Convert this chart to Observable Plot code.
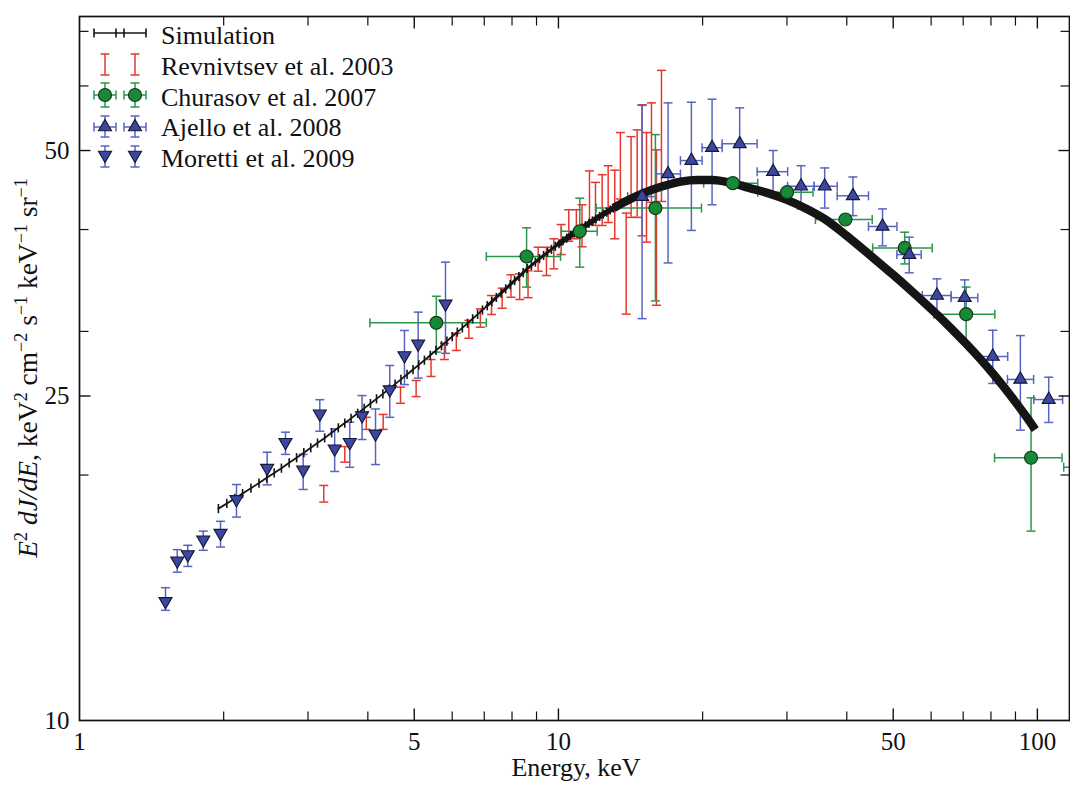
<!DOCTYPE html>
<html><head><meta charset="utf-8">
<script src="https://cdn.jsdelivr.net/npm/d3@7"></script>
<script src="https://cdn.jsdelivr.net/npm/@observablehq/plot@0.6"></script>
<style>
html,body{margin:0;padding:0;background:#fff;}
#chart{width:1070px;height:785px;}
#chart svg, #chart svg text, #chart svg tspan{font-family:'Liberation Serif','Times New Roman',serif !important;}
</style></head><body><div id="chart"></div>
<script>
// ---------- data ----------
const xTickLabels = [1, 5, 10, 50, 100];
const xMajorTicks = [5, 10, 50, 100];
const xMinorTicks = [2, 3, 4, 6, 7, 8, 9, 20, 30, 40, 60, 70, 80, 90];
const yTickLabels = [10, 25, 50];
const yMajorTicks = [25, 50];
const yMinorTicks = [20, 30, 40, 60, 70];

// Simulation (bin edges and values)
const simE = [1.95, 2.03, 2.11, 2.19, 2.28, 2.37, 2.46, 2.55, 2.64, 2.74, 2.84, 2.94, 3.04, 3.14, 3.25, 3.36, 3.47, 3.58, 3.69, 3.81, 3.93, 4.05, 4.17, 4.3, 4.43, 4.56, 4.69, 4.83, 4.97, 5.11, 5.25, 5.4, 5.55, 5.7, 5.85, 6.0, 6.15, 6.3, 6.46, 6.62, 6.78, 6.94, 7.1, 7.26, 7.42, 7.59, 7.76, 7.93, 8.1, 8.27, 8.44, 8.61, 8.78, 8.95, 9.13, 9.31, 9.49, 9.67, 9.85, 10.03, 10.22, 10.41, 10.6, 10.79, 10.98, 11.18, 11.38, 11.58, 11.78, 11.98, 12.19, 12.4, 12.61, 12.82, 13.03, 13.7, 15.0, 16.5, 18.0, 19.5, 21.0, 23.0, 25.0, 27.5, 30.0, 33.0, 36.0, 40.0, 45.0, 50.0, 55.0, 60.7, 66.0, 71.3, 76.0, 80.9, 85.0, 90.0, 95.0, 99.0];
const simF = [18.19, 18.46, 18.72, 18.98, 19.27, 19.55, 19.84, 20.12, 20.39, 20.70, 21.00, 21.30, 21.60, 21.89, 22.21, 22.53, 22.85, 23.16, 23.47, 23.81, 24.14, 24.47, 24.80, 25.15, 25.50, 25.85, 26.20, 26.57, 26.94, 27.30, 27.66, 28.05, 28.43, 28.81, 29.19, 29.57, 29.94, 30.30, 30.70, 31.09, 31.48, 31.87, 32.26, 32.64, 33.02, 33.42, 33.83, 34.23, 34.63, 35.03, 35.42, 35.82, 36.16, 36.49, 36.84, 37.18, 37.51, 37.82, 38.14, 38.43, 38.74, 39.04, 39.32, 39.61, 39.88, 40.16, 40.44, 40.71, 40.98, 41.24, 41.51, 41.77, 42.02, 42.27, 42.50, 43.2, 44.3, 45.2, 45.8, 46.0, 46.0, 45.6, 45.0, 44.3, 43.5, 42.4, 41.2, 39.3, 37.1, 35.2, 33.5, 31.76, 30.28, 28.9, 27.75, 26.6, 25.67, 24.58, 23.54, 22.73];

// Revnivtsev et al. 2003 (vertical error bars only)
const revE  = [3.236, 3.58, 3.97, 4.306, 4.68, 5.045, 5.42, 5.78, 6.12, 6.50, 6.87, 7.25, 7.63, 7.96, 8.30, 8.64, 9.07, 9.44, 9.78, 10.13, 10.51, 10.9, 11.2, 11.61, 11.95, 12.34, 12.7, 13.11, 13.47, 13.85, 14.18, 14.6, 14.95, 15.27, 15.64, 16.02, 16.41];
const revLo = [18.53, 20.74, 22.75, 22.75, 24.49, 24.96, 26.42, 27.71, 28.43, 29.43, 30.36, 31.47, 32.03, 33.04, 32.83, 33.0, 35.56, 35.13, 35.8, 37.27, 38.7, 38.97, 38.1, 40.6, 40.46, 40.46, 40.8, 38.97, 43.6, 31.5, 41.4, 41.4, 39.3, 38.6, 43.2, 32.3, 43.3];
const revHi = [19.42, 21.67, 23.54, 23.73, 25.63, 26.12, 27.71, 29.01, 29.85, 30.95, 31.97, 33.2, 33.9, 35.2, 35.3, 35.6, 38.05, 38.05, 38.97, 40.57, 42.3, 42.3, 42.9, 47.2, 45.7, 46.7, 47.9, 47.3, 52.6, 41.9, 52.0, 53.0, 56.9, 52.6, 57.2, 50.1, 62.7];

// Churasov et al. 2007
const chuE   = [5.56, 8.58, 11.08, 15.94, 23.12, 30.02, 39.74, 52.84, 71.0, 97.0, 135];
const chuF   = [30.74, 37.07, 39.8, 42.5, 45.6, 44.45, 41.15, 37.98, 31.5, 21.0, 20.45];
const chuXlo = [4.04, 7.07, 10.14, 11.99, 20.1, 26.07, 34.4, 45.3, 60.8, 81.4, 113.5];
const chuXhi = [7.07, 10.1, 12.05, 19.89, 26.07, 34.0, 45.2, 60.3, 81.5, 112.6, 160];
const chuLo  = [28.3, 34.0, 35.97, 32.7, null, null, null, 36.3, 29.0, 17.07, null];
const chuHi  = [33.13, 40.2, 43.7, 52.3, null, null, null, 39.7, 34.0, 24.87, null];

// Ajello et al. 2008
const ajE   = [14.95, 16.94, 18.95, 20.93, 23.9, 28.07, 32.1, 35.97, 41.2, 47.5, 54.0, 61.7, 70.5, 80.7, 92.15, 105.6];
const ajF   = [43.9, 46.8, 48.6, 50.4, 50.95, 47.1, 45.2, 45.2, 44.0, 40.35, 37.27, 33.2, 33.0, 27.95, 26.2, 24.75];
const ajXlo = [13.95, 15.99, 17.98, 19.95, 21.97, 26.0, 30.1, 34.2, 38.2, 44.4, 50.9, 57.5, 66.05, 75.0, 86.6, 98.3];
const ajXhi = [15.94, 17.98, 19.95, 21.97, 25.99, 30.1, 34.2, 38.2, 44.4, 50.9, 57.2, 66.05, 75.1, 86.7, 98.2, 112.9];
const ajLo  = [31.1, 36.4, 39.9, 42.9, 45.7, 44.2, 42.4, 42.5, 41.6, 38.2, 35.4, 31.6, 31.6, 25.9, 22.7, 23.2];
const ajHi  = [56.8, 57.2, 57.3, 57.8, 56.4, 50.0, 47.9, 47.6, 46.4, 42.4, 39.15, 34.8, 34.7, 30.1, 29.65, 26.36];

// Moretti et al. 2009
const morE  = [1.512, 1.60, 1.683, 1.813, 1.970, 2.127, 2.465, 2.692, 2.931, 3.175, 3.41, 3.667, 3.89, 4.15, 4.445, 4.77, 5.095, 5.81];
const morF  = [14.0, 15.7, 15.98, 16.66, 16.97, 18.67, 20.4, 21.94, 20.3, 23.78, 21.54, 21.94, 23.66, 22.47, 25.46, 28.03, 28.96, 32.43];
const morLo = [13.65, 15.2, 15.45, 16.17, 16.32, 17.76, 19.45, 21.2, 19.2, 22.63, 20.2, 20.44, 22.11, 20.6, 23.54, 25.82, 26.3, 28.2];
const morHi = [14.55, 16.2, 16.4, 17.07, 17.55, 19.47, 21.33, 22.57, 21.2, 24.74, 22.79, 23.22, 25.03, 24.1, 27.25, 30.08, 31.68, 36.48];

const legendLabels = ["Simulation", "Revnivtsev et al. 2003", "Churasov et al. 2007", "Ajello et al. 2008", "Moretti et al. 2009"];

// ---------- tables ----------
const sim = simE.map((E, i) => ({E, F: simF[i]}));
const rev = revE.map((E, i) => ({E, lo: revLo[i], hi: revHi[i]}));
const chu = chuE.map((E, i) => ({E, F: chuF[i], xlo: chuXlo[i], xhi: chuXhi[i], lo: chuLo[i], hi: chuHi[i]}));
const aj  = ajE.map((E, i) => ({E, F: ajF[i], xlo: ajXlo[i], xhi: ajXhi[i], lo: ajLo[i], hi: ajHi[i]}));
const mor = morE.map((E, i) => ({E, F: morF[i], lo: morLo[i], hi: morHi[i]}));
const chuY = chu.filter(d => d.lo != null);

// ---------- styles ----------
const RED = "#e6372d", GREEN_ERR = "#2b9648", GREEN_FILL = "#178a38", GREEN_EDGE = "#153a1d";
const BLUE_ERR = "#5864c2", BLUE_FILL = "#3c489f", BLUE_EDGE = "#161938", BLACK = "#151515";
const FONT = "'Liberation Serif', 'Times New Roman', serif";

// custom symbols (size = PI r^2)
const len = s => Math.sqrt(s / Math.PI);
const vCap = {draw(c, s) { const h = len(s); c.moveTo(0, -h); c.lineTo(0, h); }};
const hCap = {draw(c, s) { const h = len(s); c.moveTo(-h, 0); c.lineTo(h, 0); }};
const tUp = {draw(c, s) { const h = len(s); c.moveTo(0, 0); c.lineTo(0, -h); }};
const tDown = {draw(c, s) { const h = len(s); c.moveTo(0, 0); c.lineTo(0, h); }};
const tRight = {draw(c, s) { const h = len(s); c.moveTo(0, 0); c.lineTo(h, 0); }};
const tLeft = {draw(c, s) { const h = len(s); c.moveTo(0, 0); c.lineTo(-h, 0); }};
const triUp = {draw(c, s) { const y = Math.sqrt(s / (3 * Math.sqrt(3))); c.moveTo(0, -2 * y); c.lineTo(Math.sqrt(3) * y, y); c.lineTo(-Math.sqrt(3) * y, y); c.closePath(); }};
const triDown = {draw(c, s) { const y = Math.sqrt(s / (3 * Math.sqrt(3))); c.moveTo(0, 2 * y); c.lineTo(-Math.sqrt(3) * y, -y); c.lineTo(Math.sqrt(3) * y, -y); c.closePath(); }};

function vErr(data, color, cap, extra = {}) {
  return [
    Plot.ruleX(data, {x: "E", y1: "lo", y2: "hi", stroke: color, strokeWidth: 1.5, ...extra}),
    Plot.dot(data, {x: "E", y: "lo", symbol: hCap, r: cap, stroke: color, fill: "none", strokeWidth: 1.5, ...extra}),
    Plot.dot(data, {x: "E", y: "hi", symbol: hCap, r: cap, stroke: color, fill: "none", strokeWidth: 1.5, ...extra})
  ];
}
function hErr(data, color, cap, extra = {}) {
  return [
    Plot.ruleY(data, {y: "F", x1: "xlo", x2: "xhi", stroke: color, strokeWidth: 1.5, ...extra}),
    Plot.dot(data, {x: "xlo", y: "F", symbol: vCap, r: cap, stroke: color, fill: "none", strokeWidth: 1.5, ...extra}),
    Plot.dot(data, {x: "xhi", y: "F", symbol: vCap, r: cap, stroke: color, fill: "none", strokeWidth: 1.5, ...extra})
  ];
}

const chart = Plot.plot({
  width: 1070, height: 785,
  marginLeft: 79, marginRight: 1, marginTop: 16, marginBottom: 65,
  style: {fontFamily: FONT, fontSize: "25px", background: "#fff", color: "#111"},
  x: {type: "log", domain: [1, 116.7], ticks: xTickLabels, tickFormat: d => String(d), tickSize: 0, tickPadding: 12, label: null},
  y: {type: "log", domain: [10, 73], ticks: yTickLabels, tickFormat: d => String(d), tickSize: 0, tickPadding: 10, label: null},
  marks: [
    ...vErr(rev, RED, 4.5),
    ...vErr(mor, BLUE_ERR, 4.5),
    ...vErr(aj, BLUE_ERR, 4.5),
    ...hErr(aj, BLUE_ERR, 4.5),
    ...vErr(chuY, GREEN_ERR, 4.5),
    ...hErr(chu, GREEN_ERR, 4.5, {clip: true}),
    // simulation
    Plot.line(sim.filter(d => d.E <= 7.1), {x: "E", y: "F", stroke: BLACK, strokeWidth: 1.8}),
    Plot.line(sim.filter(d => d.E >= 7.1 && d.E <= 10.03), {x: "E", y: "F", stroke: BLACK, strokeWidth: 3}),
    Plot.line(sim.filter(d => d.E >= 10.03 && d.E <= 13.7), {x: "E", y: "F", stroke: BLACK, strokeWidth: 5.5}),
    Plot.line(sim.filter(d => d.E >= 13.03), {x: "E", y: "F", stroke: BLACK, strokeWidth: 8.5, strokeLinecap: "butt", curve: "monotone-x"}),
    Plot.dot(sim.filter(d => d.E <= 13.1), {x: "E", y: "F", symbol: vCap, r: 4.6, stroke: BLACK, fill: "none", strokeWidth: 1.6}),
    // markers
    Plot.dot(chu, {x: "E", y: "F", r: 6.5, fill: GREEN_FILL, stroke: GREEN_EDGE, strokeWidth: 1.2, clip: true}),
    Plot.dot(aj, {x: "E", y: "F", symbol: triUp, r: 4.8, fill: BLUE_FILL, stroke: BLUE_EDGE, strokeWidth: 1.2}),
    Plot.dot(mor, {x: "E", y: "F", symbol: triDown, r: 4.8, fill: BLUE_FILL, stroke: BLUE_EDGE, strokeWidth: 1.2}),
    // axis ticks (inward, all four sides)
    Plot.dot(xMajorTicks, {x: d => d, frameAnchor: "bottom", symbol: tUp, r: 12, stroke: "#111", strokeWidth: 1.4}),
    Plot.dot(xMinorTicks, {x: d => d, frameAnchor: "bottom", symbol: tUp, r: 9, stroke: "#111", strokeWidth: 1.2}),
    Plot.dot(xMajorTicks, {x: d => d, frameAnchor: "top", symbol: tDown, r: 12, stroke: "#111", strokeWidth: 1.4}),
    Plot.dot(xMinorTicks, {x: d => d, frameAnchor: "top", symbol: tDown, r: 9, stroke: "#111", strokeWidth: 1.2}),
    Plot.dot(yMajorTicks, {y: d => d, frameAnchor: "left", symbol: tRight, r: 11, stroke: "#111", strokeWidth: 1.4}),
    Plot.dot(yMinorTicks, {y: d => d, frameAnchor: "left", symbol: tRight, r: 9, stroke: "#111", strokeWidth: 1.2}),
    Plot.dot(yMajorTicks, {y: d => d, frameAnchor: "right", symbol: tLeft, r: 11, stroke: "#111", strokeWidth: 1.4}),
    Plot.dot(yMinorTicks, {y: d => d, frameAnchor: "right", symbol: tLeft, r: 9, stroke: "#111", strokeWidth: 1.2}),
    Plot.frame({stroke: "#111", strokeWidth: 1.7})
  ]
});
document.getElementById("chart").appendChild(chart);

// ---------- titles & legend ----------
const svg = d3.select(chart);
svg.append("text").attr("x", 576).attr("y", 776).attr("text-anchor", "middle")
  .style("font-size", "26px").attr("fill", "#111").text("Energy, keV");

const yParts = [["E", true, false], ["2", false, true], [" dJ/dE", true, false], [", keV", false, false], ["2", false, true],
  [" cm", false, false], ["−2", false, true], [" s", false, false], ["−1", false, true], [" keV", false, false], ["−1", false, true],
  [" sr", false, false], ["−1", false, true]];
const yt = svg.append("text").attr("transform", "translate(37,368) rotate(-90)").attr("text-anchor", "middle")
  .style("font-size", "27.5px").attr("fill", "#111");
let raised = false;
for (const [t, it, sup] of yParts) {
  const sp = yt.append("tspan").text(t);
  if (it) sp.attr("font-style", "italic");
  if (sup && !raised) { sp.attr("dy", -10).style("font-size", "18px"); raised = true; }
  else if (sup) { sp.style("font-size", "18px"); }
  else if (raised) { sp.attr("dy", 10); raised = false; }
}

const L = svg.append("g");
const xs = [105, 135];
L.append("line").attr("x1", 94).attr("x2", 146).attr("y1", 33).attr("y2", 33).attr("stroke", BLACK).attr("stroke-width", 1.7);
for (const tx of [94, 116, 124, 146]) L.append("line").attr("x1", tx).attr("x2", tx).attr("y1", 28.5).attr("y2", 37.5).attr("stroke", BLACK).attr("stroke-width", 1.6);
function legV(x, y1, y2, color) {
  L.append("line").attr("x1", x).attr("x2", x).attr("y1", y1).attr("y2", y2).attr("stroke", color).attr("stroke-width", 1.5);
  for (const y of [y1, y2]) L.append("line").attr("x1", x - 4.5).attr("x2", x + 4.5).attr("y1", y).attr("y2", y).attr("stroke", color).attr("stroke-width", 1.5);
}
function legH(x1, x2, y, color) {
  L.append("line").attr("x1", x1).attr("x2", x2).attr("y1", y).attr("y2", y).attr("stroke", color).attr("stroke-width", 1.5);
  for (const x of [x1, x2]) L.append("line").attr("x1", x).attr("x2", x).attr("y1", y - 4.5).attr("y2", y + 4.5).attr("stroke", color).attr("stroke-width", 1.5);
}
for (const x of xs) legV(x, 54, 75, RED);
for (const x of xs) {
  legH(x - 11, x + 11, 95, GREEN_ERR); legV(x, 83, 107, GREEN_ERR);
  L.append("circle").attr("cx", x).attr("cy", 95).attr("r", 6.5).attr("fill", GREEN_FILL).attr("stroke", GREEN_EDGE).attr("stroke-width", 1.2);
}
const triSize = Math.PI * 4.8 * 4.8;
for (const x of xs) {
  legH(x - 11, x + 11, 127, BLUE_ERR); legV(x, 116, 137, BLUE_ERR);
  L.append("path").attr("d", d3.symbol(triUp, triSize)()).attr("transform", `translate(${x},127)`).attr("fill", BLUE_FILL).attr("stroke", BLUE_EDGE).attr("stroke-width", 1.2);
}
for (const x of xs) {
  legV(x, 146, 167, BLUE_ERR);
  L.append("path").attr("d", d3.symbol(triDown, triSize)()).attr("transform", `translate(${x},155)`).attr("fill", BLUE_FILL).attr("stroke", BLUE_EDGE).attr("stroke-width", 1.2);
}
const baselines = [44, 75, 106, 136, 167];
legendLabels.forEach((t, i) => {
  L.append("text").attr("x", 161).attr("y", baselines[i]).attr("text-anchor", "start").style("font-size", "26px").attr("fill", "#111").text(t);
});
</script></body></html>
